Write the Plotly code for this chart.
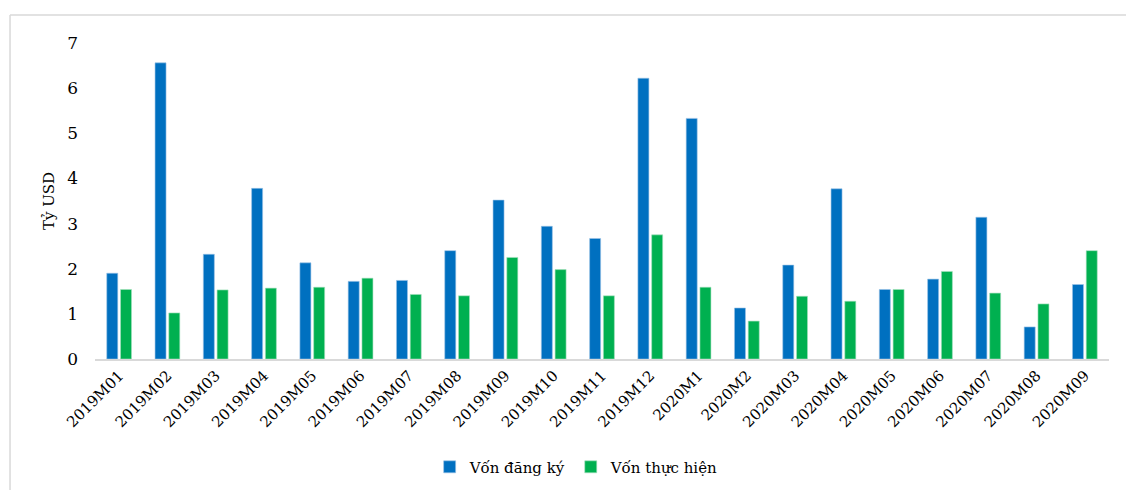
import plotly.graph_objects as go

# Monthly FDI capital, billion USD
months = [
    "2019M01", "2019M02", "2019M03", "2019M04", "2019M05", "2019M06", "2019M07",
    "2019M08", "2019M09", "2019M10", "2019M11", "2019M12", "2020M1", "2020M2",
    "2020M03", "2020M04", "2020M05", "2020M06", "2020M07", "2020M08", "2020M09",
]
von_dang_ky = [1.90, 6.56, 2.32, 3.78, 2.13, 1.72, 1.74, 2.40, 3.52, 2.94, 2.67,
               6.22, 5.33, 1.13, 2.08, 3.77, 1.54, 1.77, 3.14, 0.71, 1.65]
von_thuc_hien = [1.54, 1.02, 1.53, 1.57, 1.59, 1.79, 1.43, 1.40, 2.25, 1.98, 1.40,
                 2.75, 1.59, 0.84, 1.39, 1.28, 1.54, 1.94, 1.46, 1.22, 2.40]
y_ticks = [0, 1, 2, 3, 4, 5, 6, 7]

FONT = "DejaVu Serif"

fig = go.Figure()
fig.add_trace(go.Bar(
    x=months, y=von_dang_ky, name="Vốn đăng ký",
    marker=dict(color="#0070C0", line=dict(color="#9cc3e6", width=0.6)),
))
fig.add_trace(go.Bar(
    x=months, y=von_thuc_hien, name="Vốn thực hiện",
    marker=dict(color="#00B050", line=dict(color="#a8e0bf", width=0.6)),
))

fig.update_layout(
    width=1126, height=490,
    margin=dict(l=95, r=17, t=43, b=131, pad=0, autoexpand=False),
    paper_bgcolor="white", plot_bgcolor="white",
    barmode="group", bargap=0.43, bargroupgap=0.2,
    font=dict(family=FONT, size=17, color="#000000"),
    showlegend=True,
    legend=dict(
        orientation="h", x=0.475, xanchor="center", y=-0.342, yanchor="middle",
        font=dict(family=FONT, size=15), itemwidth=30, traceorder="normal",
        bgcolor="rgba(0,0,0,0)",
    ),
    shapes=[
        # outer chart frame (top and left edges)
        dict(type="line", xref="paper", yref="paper",
             x0=-0.0838, x1=1.02, y0=1.0886, y1=1.0886,
             line=dict(color="#d9d9d9", width=1.5)),
        dict(type="line", xref="paper", yref="paper",
             x0=-0.0838, x1=-0.0838, y0=1.0886, y1=-0.42,
             line=dict(color="#d9d9d9", width=1.5)),
    ],
)

fig.update_xaxes(
    type="category", tickangle=-45, showgrid=False, automargin=False,
    showline=True, linecolor="#d9d9d9", linewidth=2,
    ticks="", tickfont=dict(family=FONT, size=15),
)
fig.update_yaxes(
    range=[0, 7], tickvals=y_ticks, showgrid=False, zeroline=False,
    automargin=False, showline=False, ticks="", ticklabelstandoff=16,
    tickfont=dict(family=FONT, size=17),
    title=dict(text="Tỷ USD", font=dict(family=FONT, size=15), standoff=8),
)

fig.write_html("out.html")
